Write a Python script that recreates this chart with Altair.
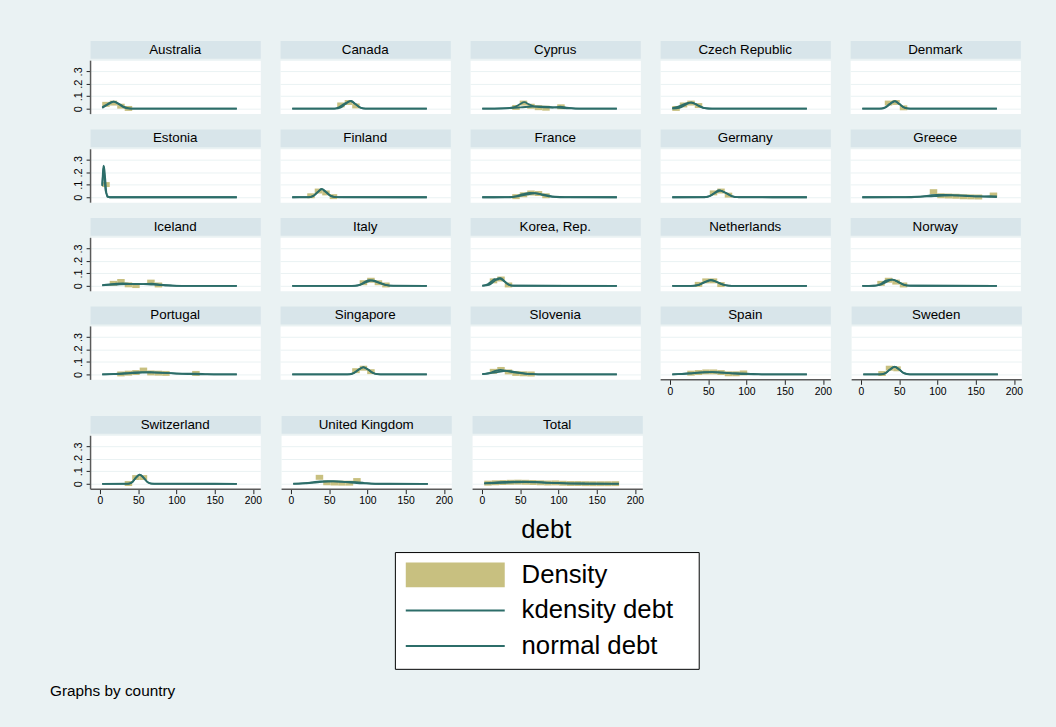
import altair as alt
import pandas as pd

FONT = "Liberation Sans"
BG = "#EAF2F3"
STRIP_FILL = "#D8E5EA"
GRID = "#EAF2F3"
BAR_COLOR = "#C8C080"
KD_COLOR = "#2C6D69"
NM_COLOR = "#2C6D69"
AXIS_GRAY = "#5A5A5A"

COUNTRIES = ["Australia", "Canada", "Cyprus", "Czech Republic", "Denmark",
             "Estonia", "Finland", "France", "Germany", "Greece",
             "Iceland", "Italy", "Korea, Rep.", "Netherlands", "Norway",
             "Portugal", "Singapore", "Slovenia", "Spain", "Sweden",
             "Switzerland", "United Kingdom", "Total"]

BIN_EDGES = [3.0, 12.8, 22.6, 32.4, 42.2, 52.0, 61.8, 71.6, 81.4, 91.2, 101.0,
             110.8, 120.6, 130.4, 140.2, 150.0, 159.8, 169.6, 179.4]

X_TICKS = [0, 50, 100, 150, 200]
Y_TICKS = [0, 0.1, 0.2, 0.3]

HIST_DENSITY = {
    "Australia":      [.035, .045, .020, .002, 0, 0, 0, 0, 0, 0, 0, 0, 0, 0, 0, 0, 0, 0],
    "Canada":         [0, 0, 0, 0, 0, 0, .030, .050, .022, 0, 0, 0, 0, 0, 0, 0, 0, 0],
    "Cyprus":         [0, 0, 0, 0, .010, .045, .020, .008, .004, 0, .015, 0, 0, 0, 0, 0, 0, 0],
    "Czech Republic": [.002, .030, .045, .025, 0, 0, 0, 0, 0, 0, 0, 0, 0, 0, 0, 0, 0, 0],
    "Denmark":        [0, 0, 0, .045, .050, .007, 0, 0, 0, 0, 0, 0, 0, 0, 0, 0, 0, 0],
    "Estonia":        [.102, 0, 0, 0, 0, 0, 0, 0, 0, 0, 0, 0, 0, 0, 0, 0, 0, 0],
    "Finland":        [0, 0, .012, .050, .035, .005, 0, 0, 0, 0, 0, 0, 0, 0, 0, 0, 0, 0],
    "France":         [0, 0, 0, 0, .005, .020, .035, .030, .012, 0, 0, 0, 0, 0, 0, 0, 0, 0],
    "Germany":        [0, 0, 0, 0, 0, .035, .050, .017, 0, 0, 0, 0, 0, 0, 0, 0, 0, 0],
    "Greece":         [0, 0, 0, 0, 0, 0, 0, 0, 0, .045, .012, .010, .008, .004, .003, .002, 0, .018],
    "Iceland":        [0, .020, .035, .008, .002, 0, .030, .007, 0, 0, 0, 0, 0, 0, 0, 0, 0, 0],
    "Italy":          [0, 0, 0, 0, 0, 0, 0, 0, 0, .025, .045, .025, .007, 0, 0, 0, 0, 0],
    "Korea, Rep.":    [0, .040, .055, .007, 0, 0, 0, 0, 0, 0, 0, 0, 0, 0, 0, 0, 0, 0],
    "Netherlands":    [0, 0, 0, .012, .040, .040, .010, 0, 0, 0, 0, 0, 0, 0, 0, 0, 0, 0],
    "Norway":         [0, 0, .020, .045, .030, .007, 0, 0, 0, 0, 0, 0, 0, 0, 0, 0, 0, 0],
    "Portugal":       [0, 0, .004, .010, .015, .035, .012, .010, .008, 0, 0, 0, .008, 0, 0, 0, 0, 0],
    "Singapore":      [0, 0, 0, 0, 0, 0, 0, 0, .030, .050, .022, 0, 0, 0, 0, 0, 0, 0],
    "Slovenia":       [0, .025, .040, .020, .008, .005, .004, 0, 0, 0, 0, 0, 0, 0, 0, 0, 0, 0],
    "Spain":          [0, 0, .010, .015, .020, .020, .015, .005, .005, .012, 0, 0, 0, 0, 0, 0, 0, 0],
    "Sweden":         [0, 0, .007, .050, .045, 0, 0, 0, 0, 0, 0, 0, 0, 0, 0, 0, 0, 0],
    "Switzerland":    [0, 0, 0, .002, .050, .050, 0, 0, 0, 0, 0, 0, 0, 0, 0, 0, 0, 0],
    "United Kingdom": [0, 0, 0, .052, .008, .006, .005, .005, .026, 0, 0, 0, 0, 0, 0, 0, 0, 0],
    "Total":          [.005, .008, .010, .012, .013, .012, .010, .008, .006, .007, .004, .002,
                       .002, .001, .0005, .0005, .0005, .001],
}

KDENSITY = {
    "Australia": [(3, .012), (8, .03), (13, .048), (18, .056), (24, .042), (30, .02), (37, .005), (45, 0), (179, 0)],
    "Canada": [(3, 0), (58, 0), (64, .012), (70, .035), (76, .056), (80, .062), (86, .036), (92, .01), (99, 0), (179, 0)],
    "Cyprus": [(3, 0), (30, .002), (45, .012), (52, .035), (58, .052), (64, .035), (72, .016), (85, .010), (95, .009),
               (105, .016), (113, .008), (125, .001), (140, 0), (179, 0)],
    "Czech Republic": [(3, .004), (10, .014), (18, .035), (26, .049), (32, .040), (38, .020), (45, .004), (55, 0), (179, 0)],
    "Denmark": [(3, 0), (28, 0), (34, .012), (40, .040), (46, .061), (52, .035), (58, .008), (66, 0), (179, 0)],
    "Estonia": [(3, .10), (3.8, .19), (4.7, .255), (5.8, .17), (7, .07), (8.5, .03), (10, .008), (13, 0), (179, 0)],
    "Finland": [(3, 0), (25, 0), (31, .012), (37, .045), (41, .067), (46, .045), (52, .015), (58, .003), (64, 0), (179, 0)],
    "France": [(3, 0), (40, 0), (48, .010), (56, .025), (65, .036), (72, .034), (80, .022), (90, .008), (100, .002), (110, 0), (179, 0)],
    "Germany": [(3, 0), (45, 0), (52, .010), (58, .035), (64, .057), (69, .046), (75, .030), (82, .008), (90, 0), (179, 0)],
    "Greece": [(3, 0), (60, 0), (75, .004), (90, .014), (100, .020), (112, .020), (125, .015), (140, .010), (155, .007),
               (170, .008), (179, .007)],
    "Iceland": [(3, .005), (12, .012), (22, .018), (30, .019), (40, .015), (50, .013), (60, .016), (68, .017), (78, .010),
                (90, .003), (100, .0005), (110, 0), (179, 0)],
    "Italy": [(3, 0), (85, 0), (92, .010), (98, .032), (104, .046), (110, .038), (117, .022), (125, .008), (135, .001), (179, 0)],
    "Korea, Rep.": [(3, .002), (10, .012), (15, .035), (19, .053), (23, .050), (27, .062), (32, .038), (37, .012), (43, .001), (179, 0)],
    "Netherlands": [(3, 0), (30, 0), (38, .008), (45, .030), (53, .047), (60, .035), (68, .012), (76, .002), (85, 0), (179, 0)],
    "Norway": [(3, 0), (20, .002), (27, .015), (33, .040), (38, .048), (43, .050), (50, .032), (57, .010), (65, .001), (179, 0)],
    "Portugal": [(3, .001), (20, .004), (40, .013), (55, .019), (68, .017), (85, .012), (100, .007), (115, .006), (125, .006),
                 (140, .002), (155, 0), (179, 0)],
    "Singapore": [(3, 0), (78, 0), (84, .012), (90, .038), (96, .058), (102, .040), (108, .014), (115, .002), (122, 0), (179, 0)],
    "Slovenia": [(3, .002), (12, .010), (20, .028), (27, .036), (33, .030), (42, .018), (55, .009), (70, .003), (85, 0), (179, 0)],
    "Spain": [(3, .001), (15, .004), (30, .011), (45, .018), (55, .019), (68, .014), (82, .008), (95, .008), (105, .005),
              (120, .001), (135, 0), (179, 0)],
    "Sweden": [(3, 0), (26, 0), (32, .010), (38, .040), (44, .062), (50, .040), (56, .010), (64, .001), (179, 0)],
    "Switzerland": [(3, 0), (38, 0), (43, .015), (47, .050), (52, .073), (57, .050), (62, .015), (67, .002), (75, 0), (179, 0)],
    "United Kingdom": [(3, 0), (15, .003), (28, .012), (38, .020), (48, .021), (60, .020), (72, .016), (85, .013), (95, .008),
                       (105, .002), (115, 0), (179, 0)],
    "Total": [(3, .004), (15, .010), (30, .015), (45, .018), (55, .018), (70, .015), (85, .010), (100, .007), (115, .004),
              (135, .002), (160, .001), (179, .0005)],
}

NORMAL = {
    "Australia": [(3, .006), (11, .035), (18, .057), (25, .035), (32, .008), (39, .0006), (50, 0), (179, 0)],
    "Canada": [(3, 0), (59.5, .0007), (66, .008), (72.5, .037), (79, .061), (85.5, .037), (92, .008), (98.5, .0007), (179, 0)],
    "Cyprus": [(3, .0002), (31, .0024), (53, .011), (75, .018), (97, .011), (119, .0024), (141, .0002), (179, 0)],
    "Czech Republic": [(3, .0004), (12, .0068), (20, .030), (28, .050), (36, .030), (44, .0068), (52, .0006), (179, 0)],
    "Denmark": [(3, 0), (25.5, .0007), (32, .008), (38.5, .037), (45, .061), (51.5, .037), (58, .008), (64.5, .0007), (179, 0)],
    "Estonia": [(3, .089), (3.7, .152), (5.3, .25), (6.9, .152), (8.5, .034), (10.1, .003), (13, 0), (179, 0)],
    "Finland": [(3, 0), (24, .0007), (30, .009), (36, .040), (42, .066), (48, .040), (54, .009), (60, .0007), (179, 0)],
    "France": [(3, 0), (33, .0003), (46, .0042), (59, .0188), (72, .031), (85, .0188), (98, .0042), (111, .0003), (179, 0)],
    "Germany": [(3, 0), (43.5, .0006), (51, .0072), (58.5, .032), (66, .053), (73.5, .032), (81, .0072), (88.5, .0006), (179, 0)],
    "Greece": [(3, 0), (47, .0002), (72, .0022), (97, .0097), (122, .016), (147, .0097), (172, .0022), (179, .0012)],
    "Iceland": [(3, .0039), (20, .0097), (45, .016), (70, .0097), (95, .0022), (120, .0002), (179, 0)],
    "Italy": [(3, 0), (81, .0005), (90, .006), (99, .027), (108, .044), (117, .027), (126, .006), (135, .0005), (179, 0)],
    "Korea, Rep.": [(3, .0002), (12, .008), (18.5, .037), (25, .061), (31.5, .037), (38, .008), (44.5, .0007), (179, 0)],
    "Netherlands": [(3, 0), (27, .0005), (36, .006), (45, .027), (54, .044), (63, .027), (72, .006), (81, .0005), (179, 0)],
    "Norway": [(3, 0), (18, .0006), (26, .0068), (34, .030), (42, .050), (50, .030), (58, .0068), (66, .0006), (179, 0)],
    "Portugal": [(3, .0005), (18, .0022), (43, .0097), (68, .016), (93, .0097), (118, .0022), (143, .0002), (179, 0)],
    "Singapore": [(3, 0), (75, .0006), (82, .0077), (89, .035), (96, .057), (103, .035), (110, .0077), (117, .0006), (179, 0)],
    "Slovenia": [(3, .002), (7, .0038), (21, .017), (35, .028), (49, .017), (63, .0038), (77, .0003), (179, 0)],
    "Spain": [(3, .0011), (11, .0024), (33, .011), (55, .018), (77, .011), (99, .0024), (121, .0002), (179, 0)],
    "Sweden": [(3, 0), (24.5, .0007), (31, .008), (37.5, .037), (44, .061), (50.5, .037), (57, .008), (63.5, .0007), (179, 0)],
    "Switzerland": [(3, 0), (35.8, .0008), (41.2, .010), (46.6, .045), (52, .074), (57.4, .045), (62.8, .010), (68.2, .0008), (179, 0)],
    "United Kingdom": [(3, .0007), (15, .0027), (35, .012), (55, .020), (75, .012), (95, .0027), (115, .0002), (179, 0)],
    "Total": [(3, .0026), (27, .0079), (57, .013), (87, .0079), (117, .0018), (147, .0001), (179, 0)],
}

LEGEND_LABELS = ["Density", "kdensity debt", "normal debt"]
LEGEND_FILLS = [BAR_COLOR, "transparent", "transparent"]
LEGEND_STROKES = [BAR_COLOR, KD_COLOR, NM_COLOR]
LEGEND_WIDTHS = [0, 2, 2]
# symbol paths; the trailing move-to widens the legend box to the right
LEGEND_SHAPES = ["M-40,-10H40V10H-40ZM185,0", "M-40,0H40M185,0", "M-40,0H40M185,0"]

# ---- layout constants ----
PANEL_W, PANEL_H, STRIP_H = 172, 54, 18
X_DOMAIN = [-12.9, 209.7]
Y_DOMAIN = [0, 0.35]
BOTTOM_PANELS = {"Spain", "Sweden", "Switzerland", "United Kingdom", "Total"}


def make_panel(idx, name):
    col = idx % 5
    xscale = alt.Scale(domain=X_DOMAIN, nice=False, zero=False)
    yscale = alt.Scale(domain=Y_DOMAIN, nice=False)
    if name in BOTTOM_PANELS:
        xaxis = alt.Axis(values=X_TICKS, title=None, grid=False, tickSize=5, tickColor="#222222",
                         tickWidth=1, domainColor=AXIS_GRAY, domainWidth=1.5, labelFontSize=10.5,
                         labelPadding=2, labelFlush=False, labelColor="black", labelFont=FONT)
    else:
        xaxis = None
    if col == 0:
        yaxis = alt.Axis(values=Y_TICKS, title=None, grid=True, gridColor=GRID, gridWidth=1,
                         tickSize=4, tickColor="#222222", domainColor=AXIS_GRAY, domainWidth=1.5,
                         labelAngle=270, labelAlign="center", labelBaseline="bottom", labelPadding=3,
                         labelFontSize=11, labelColor="black", labelFont=FONT, labelOverlap=False,
                         labelExpr="datum.value == 0 ? '0' : '.' + round(datum.value * 10)")
    else:
        yaxis = alt.Axis(values=Y_TICKS, title=None, grid=True, gridColor=GRID, gridWidth=1,
                         labels=False, ticks=False, domain=False)

    heights = HIST_DENSITY[name]
    hist_df = pd.DataFrame({
        "lo": [BIN_EDGES[k] for k in range(len(heights)) if heights[k] > 0],
        "hi": [BIN_EDGES[k + 1] for k in range(len(heights)) if heights[k] > 0],
        "density": [h for h in heights if h > 0],
    })
    kd_df = pd.DataFrame(KDENSITY[name], columns=["x", "y"])
    nm_df = pd.DataFrame(NORMAL[name], columns=["x", "y"])

    bars = alt.Chart(hist_df).mark_bar(color=BAR_COLOR).encode(
        x=alt.X("lo:Q", scale=xscale, axis=xaxis),
        x2="hi:Q",
        y=alt.Y("density:Q", scale=yscale, axis=yaxis),
    )
    kd = alt.Chart(kd_df).mark_line(color=KD_COLOR, strokeWidth=1.8, interpolate="monotone").encode(
        x=alt.X("x:Q", scale=xscale, axis=xaxis),
        y=alt.Y("y:Q", scale=yscale, axis=yaxis),
    )
    nm = alt.Chart(nm_df).mark_line(color=NM_COLOR, strokeWidth=1.8, interpolate="monotone").encode(
        x=alt.X("x:Q", scale=xscale, axis=xaxis),
        y=alt.Y("y:Q", scale=yscale, axis=yaxis),
    )
    plot = alt.layer(bars, kd, nm).properties(width=PANEL_W, height=PANEL_H)

    strip = alt.Chart(pd.DataFrame({"name": [name]})).mark_text(
        font=FONT, fontSize=13.5, color="black", align="center", baseline="middle"
    ).encode(
        text="name:N", x=alt.value(PANEL_W / 2), y=alt.value(STRIP_H / 2 + 0.5)
    ).properties(width=PANEL_W, height=STRIP_H,
                 view=alt.ViewBackground(fill=STRIP_FILL, stroke="transparent"))
    return alt.vconcat(strip, plot, spacing=0)


panels = [make_panel(i, c) for i, c in enumerate(COUNTRIES)]
rows = [alt.hconcat(*panels[r * 5:(r + 1) * 5], spacing=18) for r in range(5)]
upper = alt.vconcat(*rows[:4], spacing=13.5)
grid = alt.vconcat(upper, rows[4], spacing=17)

legend_kw = dict(
    title=None, orient="none", legendX=308, legendY=517, direction="vertical", columns=1,
    symbolSize=6.25, symbolOpacity=1, symbolOffset=38, labelOffset=54,
    symbolFillColor=BAR_COLOR, symbolStrokeColor=KD_COLOR,
    labelFontSize=26, labelFont=FONT, labelColor="black", labelLimit=400, rowPadding=10, padding=10,
    strokeColor="black", fillColor="white",
)
legend_layer = alt.Chart(pd.DataFrame({"series": LEGEND_LABELS})).mark_point(
    filled=False, opacity=0, size=6.25
).encode(
    fill=alt.Fill("series:N", scale=alt.Scale(domain=LEGEND_LABELS, range=LEGEND_FILLS),
                  legend=alt.Legend(**legend_kw)),
    stroke=alt.Stroke("series:N", scale=alt.Scale(domain=LEGEND_LABELS, range=LEGEND_STROKES),
                      legend=alt.Legend(**legend_kw)),
    strokeWidth=alt.StrokeWidth("series:N", scale=alt.Scale(type="ordinal", domain=LEGEND_LABELS,
                                                            range=LEGEND_WIDTHS),
                                legend=alt.Legend(**legend_kw)),
    shape=alt.Shape("series:N", scale=alt.Scale(domain=LEGEND_LABELS, range=LEGEND_SHAPES),
                    legend=alt.Legend(**legend_kw)),
)
xtitle = alt.Chart(pd.DataFrame({"t": ["debt"]})).mark_text(
    font=FONT, fontSize=26, color="black", align="center", baseline="middle"
).encode(text="t:N", x=alt.value(461), y=alt.value(23))

footer = alt.layer(xtitle, legend_layer).properties(
    width=900, height=166, view=alt.ViewBackground(fill="transparent", stroke="transparent"))

chart = alt.vconcat(grid, footer, spacing=0).properties(
    title=alt.TitleParams("Graphs by country", orient="bottom", anchor="start", dx=-22, offset=12,
                          fontSize=15.5, fontWeight="normal", font=FONT, color="black", baseline="top"),
    padding={"left": 50, "top": 36, "right": 33, "bottom": 29},
    background=BG,
).configure(font=FONT).configure_view(fill="white", stroke="transparent")

chart.save("out.html", embed_options={"renderer": "svg", "actions": False})
